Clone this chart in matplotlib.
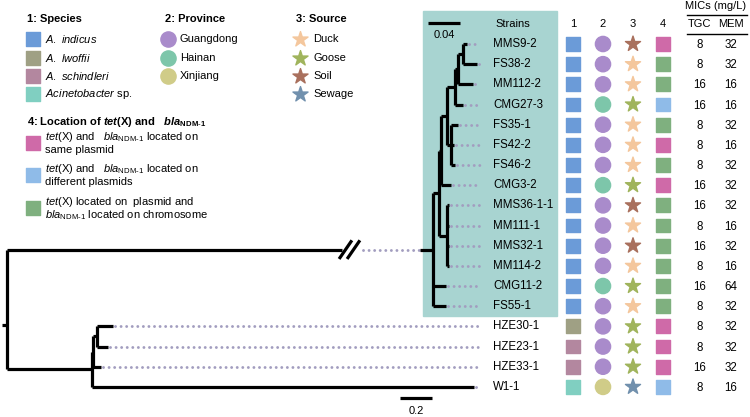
import matplotlib.pyplot as plt
from matplotlib.patches import Rectangle

plt.rcParams['font.family'] = ['Liberation Sans', 'DejaVu Sans']
plt.rcParams['mathtext.fontset'] = 'custom'
plt.rcParams['mathtext.rm'] = 'Liberation Sans'
plt.rcParams['mathtext.it'] = 'Liberation Sans:italic'
plt.rcParams['mathtext.bf'] = 'Liberation Sans:bold'
plt.rcParams['mathtext.bfit'] = 'Liberation Sans:italic:bold'

# strains, top to bottom
strains = ['MMS9-2', 'FS38-2', 'MM112-2', 'CMG27-3', 'FS35-1', 'FS42-2', 'FS46-2',
           'CMG3-2', 'MMS36-1-1', 'MM111-1', 'MMS32-1', 'MM114-2', 'CMG11-2', 'FS55-1',
           'HZE30-1', 'HZE23-1', 'HZE33-1', 'W1-1']
species = ['ind'] * 14 + ['lwo', 'sch', 'sch', 'sp']
province = ['GD', 'GD', 'GD', 'HN', 'GD', 'GD', 'GD', 'HN', 'GD', 'GD', 'GD', 'GD',
            'HN', 'GD', 'GD', 'GD', 'GD', 'XJ']
source = ['Soil', 'Duck', 'Duck', 'Goose', 'Duck', 'Duck', 'Duck', 'Goose', 'Soil',
          'Duck', 'Soil', 'Duck', 'Goose', 'Duck', 'Goose', 'Goose', 'Goose', 'Sewage']
location = ['same', 'chrom', 'chrom', 'diff', 'chrom', 'same', 'chrom', 'same', 'chrom',
            'chrom', 'chrom', 'chrom', 'chrom', 'chrom', 'same', 'same', 'same', 'diff']
tgc = [8, 8, 16, 16, 8, 8, 8, 16, 16, 8, 16, 8, 16, 8, 8, 8, 16, 8]
mem = [32, 32, 16, 16, 32, 16, 32, 32, 32, 16, 32, 16, 64, 32, 32, 32, 32, 16]

# tree nodes: (name or list of children, branch length)
clade_a = ([('MMS9-2', 0.006), ('FS38-2', 0.0175)], 0.006)
clade_b1 = ([clade_a, ('MM112-2', 0.019)], 0.004)
clade_b2 = ([clade_b1, ('CMG27-3', 0.010)], 0.009)
clade_f = ([('FS35-1', 0.008), ('FS42-2', 0.003), ('FS46-2', 0.005)], 0.005)
clade_u = ([clade_b2, clade_f], 0.0075)
clade_y = ([clade_u, ('CMG3-2', 0.0125)], 0.0025)
clade_z = ([('MMS36-1-1', 0.0025), ('MM111-1', 0.0025), ('MMS32-1', 0.0025),
            ('MM114-2', 0.0025)], 0.010)
clade_x = ([clade_y, clade_z], 0.008)
inner_tree = ([clade_x, ('CMG11-2', 0.016), ('FS55-1', 0.016)], 0.0)

clade_hze = ([('HZE30-1', 0.10), ('HZE23-1', 0.07)], 0.02)
clade_l1 = ([clade_hze, ('HZE33-1', 0.05)], 0.01)
outer_tree = ([clade_l1, ('W1-1', 2.39)], 0.53)

species_names = {'ind': r'$\mathit{A.\ indicus}$', 'lwo': r'$\mathit{A.\ lwoffii}$',
                 'sch': r'$\mathit{A.\ schindleri}$', 'sp': r'$\mathit{Acinetobacter}$ sp.'}
species_col = {'ind': '#6b9bd8', 'lwo': '#9fa084', 'sch': '#b3879f', 'sp': '#80cfc1'}
province_names = {'GD': 'Guangdong', 'HN': 'Hainan', 'XJ': 'Xinjiang'}
province_col = {'GD': '#a98bcb', 'HN': '#7dc6aa', 'XJ': '#d0cc88'}
source_col = {'Duck': '#f4c79d', 'Goose': '#a0b45c', 'Soil': '#a9705d', 'Sewage': '#7190ad'}
location_col = {'same': '#cf6aa8', 'diff': '#8fbbe8', 'chrom': '#7fb07f'}
location_text = {
    'same': [r'$\mathit{tet}$(X) and   $\mathit{bla}_{\mathrm{NDM\text{-}1}}$ located on',
             'same plasmid'],
    'diff': [r'$\mathit{tet}$(X) and   $\mathit{bla}_{\mathrm{NDM\text{-}1}}$ located on',
             'different plasmids'],
    'chrom': [r'$\mathit{tet}$(X) located on  plasmid and',
              r'$\mathit{bla}_{\mathrm{NDM\text{-}1}}$ located on chromosome'],
}

fig = plt.figure(figsize=(7.5, 4.17), dpi=100)
ax = fig.add_axes([0, 0, 1, 1])
ax.set_xlim(0, 750)
ax.set_ylim(417, 0)
ax.axis('off')

ROW0, ROWH = 44, 20.17
row_y = {s: ROW0 + i * ROWH for i, s in enumerate(strains)}
TREE = dict(color='black', lw=2.3, solid_capstyle='butt', zorder=3)
DOTS = dict(color='#a29dbf', lw=2.1, ls=(0, (0.01, 1.9)), dash_capstyle='round', zorder=2)
DOT_END = 480
STAR_S, SQ_S, DOT_S = 130, 100, 120


def draw(node, x0, scale):
    kids, length = node
    x = x0 + length * scale
    if isinstance(kids, str):
        y = row_y[kids]
        ax.plot([x0, x], [y, y], **TREE)
        if DOT_END - x > 2:
            ax.plot([x + 2, DOT_END], [y, y], **DOTS)
        return y
    ys = [draw(k, x, scale) for k in kids]
    y = (ys[0] + ys[-1]) / 2
    ax.plot([x, x], [ys[0], ys[-1]], **TREE)
    if length > 0:
        ax.plot([x0, x], [y, y], **TREE)
    return y


# teal highlight box
ax.add_patch(Rectangle((423, 11), 134, 305, color='#a8d4d1', zorder=0))

# trees
INNER_SCALE, OUTER_SCALE = 800, 160
ROOT_X, INNER_X = 7, 433
y_inner = draw(inner_tree, INNER_X, INNER_SCALE)
y_outer = draw(outer_tree, ROOT_X, OUTER_SCALE)
ax.plot([ROOT_X, ROOT_X], [y_inner, y_outer], **TREE)
ax.plot([2, ROOT_X], [(y_inner + y_outer) / 2 + 16] * 2, **TREE)
# broken long branch to the highlighted clade
ax.plot([ROOT_X, 342], [y_inner, y_inner], **TREE)
for dx in (0, 8):
    ax.plot([340 + dx, 351 + dx], [y_inner + 8, y_inner - 8], color='black', lw=2.3, zorder=3)
ax.plot([363, 419], [y_inner, y_inner], **DOTS)
ax.plot([420, INNER_X], [y_inner, y_inner], **TREE)

# scale bars
ax.plot([428, 428 + 0.04 * INNER_SCALE], [23, 23], **TREE)
ax.text(444, 35, '0.04', ha='center', va='center', fontsize=8)
ax.plot([400, 400 + 0.2 * OUTER_SCALE], [398, 398], **TREE)
ax.text(416, 411, '0.2', ha='center', va='center', fontsize=8)

# strain labels and annotation columns
ax.text(495, 24, 'Strains', ha='left', va='center', fontsize=8)
for i, h in enumerate(['1', '2', '3', '4']):
    ax.text(573 + 30 * i, 24, h, ha='center', va='center', fontsize=8)
ys = [row_y[s] for s in strains]
ax.scatter([573] * len(ys), ys, marker='s', s=SQ_S, c=[species_col[k] for k in species], zorder=3)
ax.scatter([603] * len(ys), ys, marker='o', s=DOT_S, c=[province_col[k] for k in province], zorder=3)
ax.scatter([633] * len(ys), ys, marker='*', s=STAR_S, c=[source_col[k] for k in source], zorder=3)
ax.scatter([663] * len(ys), ys, marker='s', s=SQ_S, c=[location_col[k] for k in location], zorder=3)
for s, y, t, m in zip(strains, ys, tgc, mem):
    ax.text(493, y, s, ha='left', va='center', fontsize=8.3)
    ax.text(700, y + 1, str(t), ha='center', va='center', fontsize=8.3)
    ax.text(731, y + 1, str(m), ha='center', va='center', fontsize=8.3)

# MIC header
ax.text(716, 6, 'MICs (mg/L)', ha='center', va='center', fontsize=8)
ax.plot([687, 747], [15, 15], color='black', lw=1)
ax.text(700, 24, 'TGC', ha='center', va='center', fontsize=8)
ax.text(731, 24, 'MEM', ha='center', va='center', fontsize=8)
ax.plot([687, 747], [34, 34], color='black', lw=1)

# legends
LEG_Y = [39, 57.5, 76, 93.5]
ax.text(27, 19, '1: Species', ha='left', va='center', fontsize=8, fontweight='bold')
for y, k in zip(LEG_Y, species_names):
    ax.scatter(32.5, y, marker='s', s=SQ_S, c=species_col[k])
    ax.text(45, y, species_names[k], ha='left', va='center', fontsize=8)
ax.text(165, 19, '2: Province', ha='left', va='center', fontsize=8, fontweight='bold')
for y, k in zip(LEG_Y, province_names):
    ax.scatter(167.5, y, marker='o', s=DOT_S, c=province_col[k])
    ax.text(180, y, province_names[k], ha='left', va='center', fontsize=8)
ax.text(296, 19, '3: Source', ha='left', va='center', fontsize=8, fontweight='bold')
for y, k in zip(LEG_Y, source_col):
    ax.scatter(300, y, marker='*', s=STAR_S, c=source_col[k])
    ax.text(313, y, k, ha='left', va='center', fontsize=8)

ax.text(27, 122, r'4: Location of $\mathbfit{tet}$(X) and   $\mathbfit{bla}_{\mathbf{NDM\text{-}1}}$',
        ha='left', va='center', fontsize=8, fontweight='bold')
for y, k in zip([143, 175, 208], location_text):
    ax.scatter(32.5, y, marker='s', s=SQ_S, c=location_col[k])
    ax.text(45, y - 6, location_text[k][0], ha='left', va='center', fontsize=8)
    ax.text(45, y + 7, location_text[k][1], ha='left', va='center', fontsize=8)

fig.savefig('out.png', dpi=100)
